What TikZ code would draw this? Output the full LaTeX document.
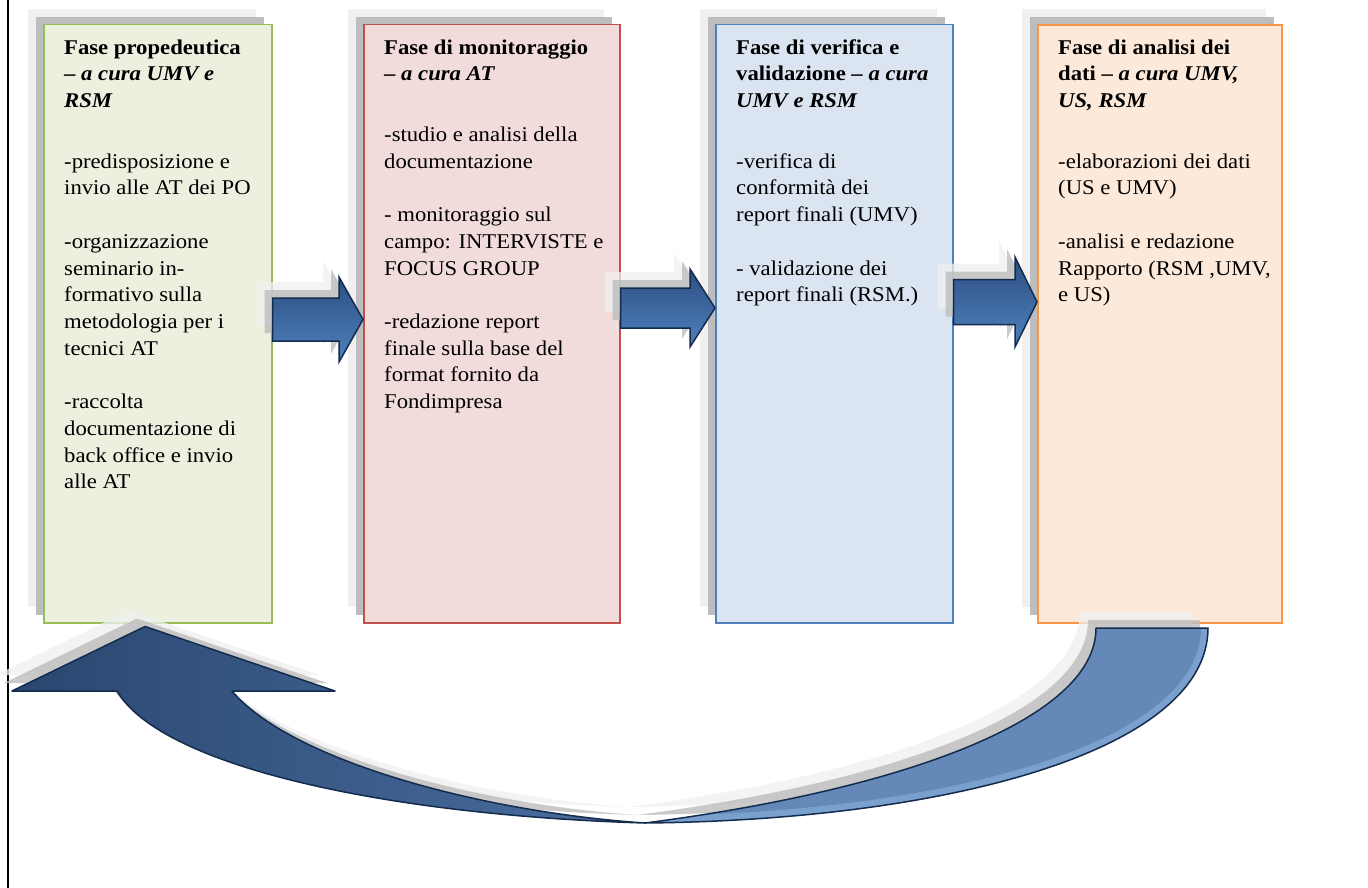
\documentclass[tikz,border=0pt]{standalone}
\usepackage{fontspec}
\setmainfont{Liberation Serif}[FakeStretch=1.08]
\usetikzlibrary{calc,shadows}
\definecolor{gfill}{HTML}{EBF1DE}
\definecolor{gline}{HTML}{9BBB59}
\definecolor{rfill}{HTML}{F2DCDB}
\definecolor{rline}{HTML}{C0504D}
\definecolor{bfill}{HTML}{DBE5F1}
\definecolor{bline}{HTML}{4F81BD}
\definecolor{ofill}{HTML}{FDE9D9}
\definecolor{oline}{HTML}{F79646}
\definecolor{shlight}{HTML}{F0F0F0}
\definecolor{shdark}{HTML}{BDBDBD}
\definecolor{arrtop}{HTML}{2D4F82}
\definecolor{arrbot}{HTML}{4F81BD}
\definecolor{arrline}{HTML}{132B4C}
\definecolor{frontL}{HTML}{2A4670}
\definecolor{frontR}{HTML}{4A6FA0}
\definecolor{backc}{HTML}{6489B9}
\definecolor{backedge}{HTML}{7AA1CE}
\tikzset{
  phasebox/.style={anchor=north west, inner sep=0pt, line width=1.5pt, minimum height=598pt,
    general shadow={shadow xshift=-16pt, shadow yshift=16pt, fill=shlight},
    general shadow={shadow xshift=-8pt, shadow yshift=8pt, fill=shdark}},
  phasetext/.style={anchor=north west, inner sep=0pt, align=left,
    font=\fontsize{21pt}{26.7pt}\selectfont},
  blockarr/.style={draw=arrline, line width=1.5pt, line join=miter, top color=arrtop, bottom color=arrbot},
  curvline/.style={draw=arrline, line width=1.5pt, line join=round},
}
\newcommand\arrowpath[6]{($(#1.east |- #3)+(0,-#4)$) -- ($(#2.west |- #3)+(-#6,-#4)$) -- ($(#2.west |- #3)+(-#6,-#5)$) -- (#2.west |- #3) -- ($(#2.west |- #3)+(-#6,#5)$) -- ($(#2.west |- #3)+(-#6,#4)$) -- ($(#1.east |- #3)+(0,#4)$) -- cycle}
\newcommand\frontpath{(chtip) -- (335,691) -- (232,691) .. controls (290,760) and (480,812) .. (645,823) .. controls (380,815) and (160,765) .. (117,691) -- (12,691) -- cycle}
\newcommand\backpath{(645,823) .. controls (900,790) and (1096,720) .. (ctl) -- (ctr) .. controls (1208,750) and (950,820) .. (645,823) -- cycle}
\begin{document}
\begin{tikzpicture}[x=1pt,y=-1pt]
\useasboundingbox (0,0) rectangle (1368,888);
\fill[white] (0,0) rectangle (1368,888);
\draw[line width=2pt] (8,0) -- (8,888);

% boxes
\node[phasebox, fill=gfill, draw=gline, minimum width=228pt] (b1) at (43,24) {};
\node[phasebox, fill=rfill, draw=rline, minimum width=256pt] (b2) at (363,24) {};
\node[phasebox, fill=bfill, draw=bline, minimum width=237pt] (b3) at (715,24) {};
\node[phasebox, fill=ofill, draw=oline, line width=2pt, minimum width=244pt] (b4) at (1037,24) {};

% texts
\node[phasetext] (t1) at (64,34) {\rule{0pt}{20pt}\textbf{Fase propedeutica}\\
\textbf{– \textit{a cura UMV e}}\\
\textbf{\textit{RSM}}\\[33.8pt]
-predisposizione e\\
invio alle AT dei PO\\[26.8pt]
-organizzazione\\
seminario in-\\
formativo sulla\\
metodologia per i\\
tecnici AT\\[26.8pt]
-raccolta\\
documentazione di\\
back office e invio\\
alle AT};

\node[phasetext] (t2) at (384,34) {\rule{0pt}{20pt}\textbf{Fase di monitoraggio}\\
\textbf{– \textit{a cura AT}}\\[33.8pt]
-studio e analisi della\\
documentazione\\[26.8pt]
- monitoraggio sul\\
campo: INTERVISTE e\\
FOCUS GROUP\\[26.8pt]
-redazione report\\
finale sulla base del\\
format fornito da\\
Fondimpresa};

\node[phasetext] (t3) at (736,34) {\rule{0pt}{20pt}\textbf{Fase di verifica e}\\
\textbf{validazione – \textit{a cura}}\\
\textbf{\textit{UMV e RSM}}\\[33.8pt]
-verifica di\\
conformità dei\\
report finali (UMV)\\[26.8pt]
- validazione dei\\
report finali (RSM.)};

\node[phasetext] (t4) at (1058,34) {\rule{0pt}{20pt}\textbf{Fase di analisi dei}\\
\textbf{dati – \textit{a cura UMV,}}\\
\textbf{\textit{US, RSM}}\\[33.8pt]
-elaborazioni dei dati\\
(US e UMV)\\[26.8pt]
-analisi e redazione\\
Rapporto (RSM ,UMV,\\
e US)};

% arrow levels
\coordinate (y1) at (0,319.5);
\coordinate (y2) at (0,308);
\coordinate (y3) at (0,302);

% straight arrow shadows
\begin{scope}[transform canvas={shift={(-16,-16)}}]
  \fill[shlight, fill opacity=0.75] \arrowpath{b1}{b2}{y1}{21.5}{42.5}{24};
  \fill[shlight, fill opacity=0.75] \arrowpath{b2}{b3}{y2}{20}{39}{25};
  \fill[shlight, fill opacity=0.75] \arrowpath{b3}{b4}{y3}{22.5}{45}{22};
\end{scope}
\begin{scope}[transform canvas={shift={(-8,-8)}}]
  \fill[shdark, fill opacity=0.8] \arrowpath{b1}{b2}{y1}{21.5}{42.5}{24};
  \fill[shdark, fill opacity=0.8] \arrowpath{b2}{b3}{y2}{20}{39}{25};
  \fill[shdark, fill opacity=0.8] \arrowpath{b3}{b4}{y3}{22.5}{45}{22};
\end{scope}
% straight arrows
\path[blockarr] \arrowpath{b1}{b2}{y1}{21.5}{42.5}{24};
\path[blockarr] \arrowpath{b2}{b3}{y2}{20}{39}{25};
\path[blockarr] \arrowpath{b3}{b4}{y3}{22.5}{45}{22};

% curved return arrow
\coordinate (ctl) at ($(b4.south west)+(59,4)$);
\coordinate (ctr) at ($(b4.south west)+(171,4)$);
\coordinate (chtip) at ($(b1.south west)+(102,3)$);
\begin{scope}[transform canvas={shift={(-16,-16)}}]
  \fill[shlight, fill opacity=0.75] \frontpath;
  \fill[shlight, fill opacity=0.75] \backpath;
\end{scope}
\begin{scope}[transform canvas={shift={(-8,-8)}}]
  \fill[shdark, fill opacity=0.8] \frontpath;
  \fill[shdark, fill opacity=0.8] \backpath;
\end{scope}
\shade[left color=frontL, right color=frontR] \frontpath;
\fill[backc] \backpath;
\begin{scope}
  \clip \backpath;
  \draw[backedge, line width=14pt] (ctr) .. controls (1208,750) and (950,820) .. (645,823);
\end{scope}
\path[curvline] \frontpath;
\path[curvline] \backpath;
\end{tikzpicture}
\end{document}
